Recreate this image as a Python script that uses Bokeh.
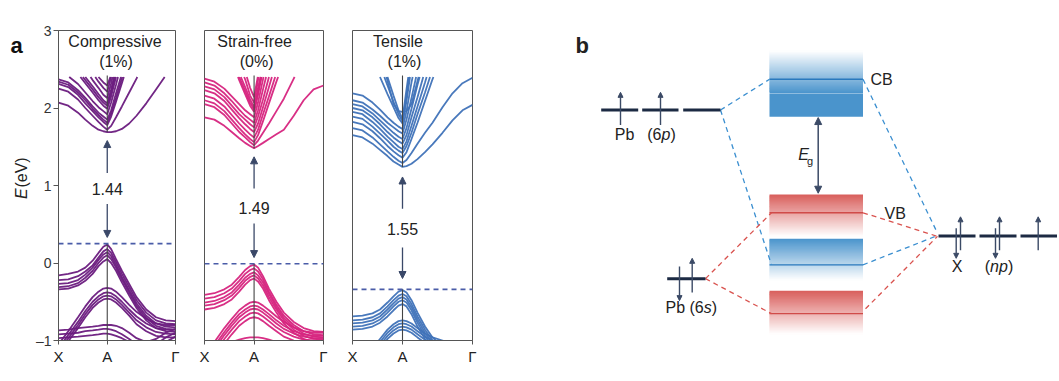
import numpy as np
from bokeh.plotting import figure
from bokeh.layouts import row
from bokeh.models import Range1d, FixedTicker, Arrow, NormalHead
from bokeh.embed import file_html
from bokeh.resources import INLINE
from bokeh.core.properties import value

FONT = "Liberation Sans"
TXT = "#222222"
AXC = "#555555"
ARROW_C = "#3a4868"
DASH_C = "#4a5ca8"

# ---------------- data: band structures (k path X-A-Gamma, E in eV) ----------------
K = [0, 0.2, 0.4, 0.55, 0.7, 0.82, 0.92, 1.0, 1.08, 1.18, 1.3, 1.45, 1.6, 1.8, 2.0, 2.2, 2.4]
k_ticks = [0, 1, 2.4]
k_labels = ["X", "A", "Γ"]
E_ticks = [-1, 0, 1, 2, 3]
E_labels = ["–1", "0", "1", "2", "3"]

strain_names = ["Compressive", "Strain-free", "Tensile"]
strain_pcts = ["(1%)", "(0%)", "(1%)"]
gap_labels = ["1.44", "1.49", "1.55"]
vb_max = [0.25, -0.01, -0.34]
cb_min = [1.69, 1.48, 1.24]
band_colors = ["#6a1b7e", "#d6247e", "#3f72b8"]

comp_cb = [
    [2.07, 2.03, 1.94, 1.85, 1.77, 1.72, 1.70, 1.69, 1.69, 1.70, 1.73, 1.80, 1.90, 2.06, 2.24, 2.42, 2.60],
    [2.25, 2.21, 2.11, 2.00, 1.90, 1.82, 1.76, 1.72, 1.77, 1.88, 2.02, 2.20, 2.38, 2.62],
    [2.31, 2.27, 2.17, 2.06, 1.96, 1.88, 1.82, 1.78, 1.89, 2.08, 2.32, 2.62],
    [2.34, 2.30, 2.20, 2.10, 1.99, 1.91, 1.85, 1.81, 1.93, 2.13, 2.38, 2.70],
    [2.37, 2.33, 2.23, 2.13, 2.02, 1.94, 1.89, 1.85, 1.97, 2.19, 2.44, 2.80],
    [2.45, 2.41, 2.31, 2.20, 2.09, 2.01, 1.96, 1.92, 2.07, 2.30, 2.60],
    [2.80, 2.60, 2.44, 2.32, 2.20, 2.10, 2.03, 1.99, 2.15, 2.40, 2.70],
    [2.85, 2.65, 2.48, 2.36, 2.24, 2.14, 2.07, 2.03, 2.20, 2.46, 2.75],
    [2.90, 2.70, 2.52, 2.40, 2.28, 2.18, 2.10, 2.06, 2.24, 2.51, 2.80],
    [3.00, 2.80, 2.65, 2.50, 2.36, 2.26, 2.17, 2.13, 2.32, 2.60, 2.90],
    [3.00, 3.00, 2.75, 2.60, 2.45, 2.34, 2.26, 2.21, 2.40, 2.65, 3.00],
    [3.00, 3.00, 3.00, 2.70, 2.50, 2.40, 2.33, 2.29, 2.43, 2.70, 3.00],
]
comp_vb = [
    [-0.16, -0.14, -0.11, -0.06, 0.03, 0.13, 0.21, 0.24, 0.18, 0.05, -0.10, -0.27, -0.44, -0.60, -0.70, -0.74, -0.75],
    [-0.22, -0.21, -0.17, -0.11, -0.03, 0.07, 0.15, 0.18, 0.13, 0.01, -0.14, -0.31, -0.48, -0.64, -0.74, -0.78, -0.79],
    [-0.27, -0.26, -0.22, -0.15, -0.06, 0.04, 0.11, 0.14, 0.09, -0.03, -0.18, -0.35, -0.52, -0.68, -0.78, -0.82, -0.83],
    [-0.31, -0.30, -0.26, -0.19, -0.10, 0.00, 0.07, 0.10, 0.05, -0.06, -0.21, -0.38, -0.55, -0.71, -0.81, -0.85, -0.86],
    [-0.34, -0.33, -0.29, -0.23, -0.14, -0.04, 0.02, 0.05, 0.00, -0.10, -0.25, -0.42, -0.58, -0.74, -0.84, -0.88, -0.89],
    [-1.05, -0.88, -0.70, -0.56, -0.44, -0.37, -0.33, -0.32, -0.33, -0.37, -0.44, -0.54, -0.63, -0.72, -0.78, -0.80, -0.80],
    [-1.10, -0.93, -0.76, -0.62, -0.50, -0.43, -0.39, -0.38, -0.39, -0.43, -0.50, -0.60, -0.69, -0.78, -0.84, -0.86, -0.86],
    [-1.14, -0.97, -0.80, -0.66, -0.54, -0.47, -0.43, -0.42, -0.43, -0.47, -0.54, -0.64, -0.74, -0.83, -0.89, -0.91, -0.92],
    [-1.18, -1.01, -0.84, -0.70, -0.58, -0.51, -0.47, -0.46, -0.47, -0.51, -0.58, -0.68, -0.79, -0.88, -0.94, -0.96, -0.96],
    [-0.87, -0.86, -0.84, -0.83, -0.82, -0.81, -0.80, -0.80, -0.80, -0.81, -0.84, -0.90, -0.97, -1.02, -0.98, -0.90, -0.85],
    [-0.92, -0.91, -0.90, -0.88, -0.87, -0.86, -0.85, -0.85, -0.86, -0.88, -0.92, -0.98, -1.05, -1.10, -1.05, -0.96, -0.90],
    [-0.97, -0.96, -0.95, -0.94, -0.93, -0.92, -0.91, -0.91, -0.92, -0.94, -0.97, -1.02, -1.10, -1.10, -1.10, -1.02, -0.95],
]

free_cb = [
    [1.88, 1.85, 1.77, 1.69, 1.61, 1.55, 1.51, 1.48, 1.51, 1.55, 1.60, 1.66, 1.72, 1.90, 2.10, 2.24, 2.29],
    [2.05, 2.01, 1.91, 1.80, 1.69, 1.62, 1.56, 1.52, 1.58, 1.68, 1.80, 1.96, 2.12, 2.38, 2.60],
    [2.10, 2.06, 1.96, 1.85, 1.74, 1.66, 1.60, 1.56, 1.65, 1.83, 2.06, 2.34, 2.60],
    [2.16, 2.12, 2.02, 1.91, 1.80, 1.72, 1.66, 1.62, 1.72, 1.92, 2.15, 2.45, 2.75],
    [2.23, 2.19, 2.09, 1.98, 1.87, 1.79, 1.73, 1.69, 1.80, 2.01, 2.27, 2.60],
    [2.28, 2.24, 2.14, 2.03, 1.92, 1.85, 1.79, 1.75, 1.89, 2.11, 2.40, 2.75],
    [2.33, 2.29, 2.19, 2.09, 1.98, 1.90, 1.85, 1.81, 1.97, 2.24, 2.55],
    [2.38, 2.34, 2.25, 2.15, 2.05, 1.97, 1.92, 1.88, 2.07, 2.37, 2.70],
    [3.00, 3.00, 2.80, 2.60, 2.36, 2.18, 2.03, 1.95, 2.17, 2.50, 2.90],
    [3.00, 3.00, 2.90, 2.65, 2.40, 2.22, 2.07, 1.98, 2.21, 2.52, 2.95],
    [3.00, 3.00, 3.00, 2.70, 2.45, 2.27, 2.11, 2.01, 2.26, 2.55, 3.00],
    [3.00, 3.00, 3.00, 2.80, 2.55, 2.37, 2.16, 2.07, 2.36, 2.70, 3.00],
    [3.00, 3.00, 3.00, 3.00, 2.70, 2.47, 2.26, 2.14, 2.42, 2.80, 3.00],
]
free_vb = [
    [-0.41, -0.39, -0.34, -0.28, -0.18, -0.09, -0.04, -0.02, -0.06, -0.17, -0.33, -0.50, -0.64, -0.76, -0.84, -0.88, -0.89],
    [-0.46, -0.44, -0.39, -0.33, -0.23, -0.14, -0.09, -0.07, -0.11, -0.21, -0.37, -0.54, -0.68, -0.80, -0.88, -0.92, -0.93],
    [-0.51, -0.49, -0.44, -0.38, -0.28, -0.19, -0.14, -0.12, -0.16, -0.25, -0.40, -0.57, -0.71, -0.83, -0.91, -0.95, -0.96],
    [-0.55, -0.53, -0.48, -0.42, -0.32, -0.23, -0.18, -0.16, -0.20, -0.29, -0.44, -0.60, -0.74, -0.86, -0.94, -0.98, -0.99],
    [-0.60, -0.58, -0.53, -0.47, -0.37, -0.28, -0.22, -0.20, -0.24, -0.33, -0.48, -0.64, -0.78, -0.90, -0.98, -1.02, -1.03],
    [-1.25, -1.02, -0.84, -0.72, -0.61, -0.55, -0.51, -0.50, -0.51, -0.55, -0.61, -0.69, -0.76, -0.83, -0.88, -0.90, -0.90],
    [-1.30, -1.07, -0.89, -0.77, -0.66, -0.60, -0.56, -0.55, -0.56, -0.60, -0.66, -0.74, -0.81, -0.88, -0.92, -0.94, -0.94],
    [-1.34, -1.11, -0.93, -0.81, -0.70, -0.64, -0.60, -0.59, -0.60, -0.64, -0.70, -0.78, -0.85, -0.91, -0.95, -0.97, -0.97],
    [-1.39, -1.16, -0.98, -0.86, -0.75, -0.69, -0.65, -0.64, -0.65, -0.69, -0.75, -0.83, -0.89, -0.95, -0.99, -1.00, -1.00],
    [-1.45, -1.22, -1.04, -0.92, -0.81, -0.75, -0.71, -0.70, -0.71, -0.75, -0.81, -0.88, -0.95, -1.00, -1.04, -1.05, -1.05],
    [-1.10, -1.08, -1.05, -1.02, -0.99, -0.97, -0.96, -0.96, -0.96, -0.97, -0.99, -1.02, -1.05, -1.08, -1.10, -1.10, -1.10],
]

tens_cb = [
    [1.65, 1.62, 1.54, 1.46, 1.38, 1.31, 1.27, 1.24, 1.25, 1.28, 1.34, 1.43, 1.53, 1.68, 1.84, 1.97, 2.04],
    [1.74, 1.71, 1.62, 1.53, 1.44, 1.37, 1.32, 1.29, 1.33, 1.42, 1.54, 1.68, 1.81, 2.01, 2.19, 2.32, 2.39],
    [1.82, 1.79, 1.70, 1.61, 1.51, 1.44, 1.39, 1.36, 1.43, 1.60, 1.81, 2.09, 2.37, 2.70],
    [1.89, 1.86, 1.76, 1.67, 1.58, 1.50, 1.45, 1.42, 1.51, 1.68, 1.92, 2.20, 2.50],
    [1.95, 1.92, 1.82, 1.73, 1.63, 1.56, 1.50, 1.47, 1.57, 1.77, 2.02, 2.33, 2.65],
    [2.00, 1.97, 1.88, 1.79, 1.69, 1.62, 1.57, 1.54, 1.65, 1.88, 2.14, 2.48],
    [2.05, 2.02, 1.93, 1.84, 1.75, 1.68, 1.63, 1.60, 1.74, 1.99, 2.30, 2.65],
    [2.10, 2.07, 1.98, 1.90, 1.81, 1.75, 1.70, 1.67, 1.85, 2.13, 2.48],
    [2.19, 2.16, 2.07, 1.98, 1.88, 1.81, 1.76, 1.73, 1.96, 2.33, 2.70],
    [3.00, 2.85, 2.60, 2.40, 2.18, 2.01, 1.87, 1.80, 2.09, 2.53],
    [3.00, 3.00, 2.80, 2.55, 2.29, 2.08, 1.92, 1.83, 2.16, 2.62],
    [3.00, 3.00, 3.00, 2.70, 2.40, 2.16, 1.97, 1.86, 2.24, 2.70],
    [3.00, 3.00, 3.00, 2.70, 2.35, 2.05, 1.96, 1.95, 1.96, 2.05, 2.35, 2.70],
]
tens_vb = [
    [-0.69, -0.68, -0.65, -0.60, -0.51, -0.43, -0.37, -0.35, -0.38, -0.48, -0.64, -0.82, -0.96, -1.08, -1.15, -1.20, -1.20],
    [-0.74, -0.73, -0.70, -0.65, -0.56, -0.48, -0.42, -0.40, -0.43, -0.53, -0.69, -0.86, -1.00, -1.12, -1.18, -1.22, -1.22],
    [-0.78, -0.77, -0.74, -0.69, -0.60, -0.52, -0.46, -0.44, -0.47, -0.57, -0.73, -0.90, -1.03, -1.15, -1.20, -1.24, -1.24],
    [-0.82, -0.81, -0.78, -0.73, -0.64, -0.56, -0.50, -0.48, -0.51, -0.61, -0.77, -0.94, -1.07, -1.18, -1.22, -1.25, -1.25],
    [-0.86, -0.85, -0.82, -0.77, -0.69, -0.61, -0.55, -0.53, -0.56, -0.66, -0.82, -0.98, -1.10, -1.20, -1.25, -1.27, -1.27],
    [-1.40, -1.25, -1.10, -0.98, -0.86, -0.79, -0.75, -0.74, -0.75, -0.78, -0.84, -0.91, -0.96, -1.00, -1.05, -1.10, -1.10],
    [-1.44, -1.29, -1.14, -1.02, -0.90, -0.83, -0.79, -0.78, -0.79, -0.82, -0.88, -0.95, -1.00, -1.04, -1.09, -1.14, -1.14],
    [-1.48, -1.33, -1.18, -1.06, -0.94, -0.87, -0.83, -0.82, -0.83, -0.86, -0.92, -0.99, -1.04, -1.08, -1.13, -1.18, -1.18],
    [-1.52, -1.37, -1.22, -1.10, -0.98, -0.91, -0.87, -0.86, -0.87, -0.90, -0.96, -1.03, -1.08, -1.12, -1.17, -1.22, -1.22],
]

all_cb = [comp_cb, free_cb, tens_cb]
all_vb = [comp_vb, free_vb, tens_vb]

# gap arrows / labels (E positions)
up_arrow = [(1.16, 1.58), (0.96, 1.37), (0.70, 1.11)]
down_arrow = [(0.76, 0.33), (0.51, 0.07), (0.20, -0.20)]
gap_text_E = [0.96, 0.71, 0.44]
title_k = [(1.16, 1.18), (1.01, 1.05), (0.91, 1.04)]
E_TOP = 2.4


def clip_top(ks, es, top=E_TOP):
    """Split a band polyline where it leaves the plotted energy window."""
    es = list(es) + [3.0] * (len(ks) - len(es))
    segs, cx, cy = [], [], []
    for i in range(len(ks)):
        k, e = ks[i], es[i]
        if i > 0:
            k0, e0 = ks[i - 1], es[i - 1]
            if (e0 <= top) != (e <= top):
                t = (top - e0) / (e - e0)
                cx.append(k0 + t * (k - k0)); cy.append(top)
                if e > top:
                    if len(cx) > 1:
                        segs.append((cx, cy))
                    cx, cy = [], []
        if e <= top:
            cx.append(k); cy.append(e)
    if len(cx) > 1:
        segs.append((cx, cy))
    return segs


H = 381
# left strip holding the panel letter and the rotated y-axis title
p_lab = figure(width=32, height=H, x_range=Range1d(0, 32), y_range=Range1d(H, 0),
               output_backend="svg", toolbar_location=None, tools="", min_border=0,
               x_axis_location=None, y_axis_location=None)
p_lab.grid.visible = False
p_lab.outline_line_color = None
p_lab.text(x=[10], y=[19], text=["a"], text_font=value(FONT), text_font_size=value("22px"),
           text_font_style="bold", text_align="left", text_baseline="middle", text_color="#111111")
p_lab.text(x=[21], y=[207], text=["E"], text_font=value(FONT), text_font_size=value("16px"),
           text_font_style="italic", text_align="left", text_baseline="middle", text_color=TXT,
           angle=np.pi / 2)
p_lab.text(x=[21], y=[193], text=["(eV)"], text_font=value(FONT), text_font_size=value("16px"),
           text_align="left", text_baseline="middle", text_color=TXT, angle=np.pi / 2)

widths = [158, 148, 222]
lefts = [23, 14, 14]
rights = [15, 15, 88]
figs = []
for i in range(3):
    p = figure(width=widths[i], height=H, x_range=Range1d(0, 2.4), y_range=Range1d(-1, 3),
               output_backend="svg", toolbar_location=None, tools="",
               min_border_left=lefts[i], min_border_right=rights[i],
               min_border_top=30, min_border_bottom=41,
               y_axis_location="left" if i == 0 else None)
    p.grid.visible = False
    p.outline_line_color = AXC
    p.outline_line_width = 1
    p.background_fill_color = "white"
    p.border_fill_color = "white"

    xa = p.xaxis[0]
    xa.ticker = FixedTicker(ticks=k_ticks)
    xa.major_label_overrides = dict(zip(k_ticks, k_labels))
    xa.minor_tick_line_color = None
    xa.major_tick_in = 0
    xa.major_tick_out = 4
    xa.major_tick_line_color = AXC
    xa.axis_line_color = AXC
    xa.major_label_standoff = 3
    xa.major_label_text_font = FONT
    xa.major_label_text_font_size = "15px"
    xa.major_label_text_color = TXT
    if i == 0:
        ya = p.yaxis[0]
        ya.ticker = FixedTicker(ticks=E_ticks)
        ya.major_label_overrides = dict(zip(E_ticks, E_labels))
        ya.minor_tick_line_color = None
        ya.major_tick_in = 0
        ya.major_tick_out = 5
        ya.major_tick_line_color = AXC
        ya.axis_line_color = AXC
        ya.major_label_standoff = 2
        ya.major_label_text_font = FONT
        ya.major_label_text_font_size = "14px"
        ya.major_label_text_color = "#333333"

    col = band_colors[i]
    xs, ys = [], []
    for band in all_cb[i] + all_vb[i]:
        for sx, sy in clip_top(K, band):
            xs.append(sx); ys.append(sy)
    p.multi_line(xs, ys, line_color=col, line_width=1.8, line_alpha=0.95)

    # vertical line at A through the bands
    p.segment(x0=[1, 1], y0=[-1, cb_min[i]], x1=[1, 1], y1=[vb_max[i], E_TOP + 0.02],
              line_color="#444444", line_width=1.1)
    # VBM dashed level
    p.line(x=[k_ticks[0], k_ticks[-1]], y=[vb_max[i], vb_max[i]], line_color=DASH_C,
           line_width=1.6, line_dash="5 4")

    # gap arrows and value
    for (y0, y1) in (up_arrow[i], down_arrow[i]):
        p.add_layout(Arrow(end=NormalHead(size=7, fill_color=ARROW_C, line_color=ARROW_C, line_width=1),
                           x_start=1, y_start=y0, x_end=1, y_end=y1,
                           line_color=ARROW_C, line_width=1.3))
    p.text(x=[1], y=[gap_text_E[i]], text=[gap_labels[i]], text_font=value(FONT),
           text_font_size=value("16px"), text_align="center", text_baseline="middle",
           text_color=TXT)
    # panel title
    p.text(x=[title_k[i][0], title_k[i][1]], y=[2.86, 2.60], text=[strain_names[i], strain_pcts[i]],
           text_font=value(FONT), text_font_size=value("16px"), text_align="center",
           text_baseline="middle", text_color=TXT)
    figs.append(p)

# ---------------- panel b: schematic orbital diagram ----------------
BLUE = "#4a94cc"
RED = "#d95f5c"
BLUE_LINE = "#2a79bd"
RED_LINE = "#d04b49"
LEVEL_C = "#1c2a43"
ELEC_C = "#3b4a66"

band_x = (769.0, 862.5)
# (edge where colour is full, edge where it has faded, colour, solid extent)
band_boxes = [(77, 25, BLUE, 106), (201.7, 253, RED, None), (256, 307, BLUE, None), (320, 373, RED, None)]
band_lines = [(60, BLUE_LINE), (224, RED_LINE), (288, BLUE_LINE), (348, RED_LINE)]

pb_levels = [(97.7, [(600.7, 637.7), (641.7, 678), (682.7, 720)]),
             (305, [(666.7, 705)]),
             (252.7, [(938, 975), (979, 1016), (1020, 1056.5)])]
# electron spins: (x, y_start, y_end)
spins = [(620, 116, 76), (660, 116, 76),
         (679, 290, 332), (691.7, 322, 280),
         (955.7, 243, 280), (960, 270, 229), (995, 243, 280), (999, 270, 229), (1037.7, 270, 229)]
blue_links = [((720, 97.7), (769, 60)), ((720, 97.7), (771, 288)),
              ((862.5, 60), (937, 249)), ((862.5, 288), (937, 252))]
red_links = [((705, 305), (771, 224)), ((705, 305), (771, 348)),
             ((862.5, 224), (937, 253)), ((865, 342), (937, 253))]


def mix(hexc, t):
    r, g, b = int(hexc[1:3], 16), int(hexc[3:5], 16), int(hexc[5:7], 16)
    return "#%02x%02x%02x" % (round(r + (255 - r) * t), round(g + (255 - g) * t), round(b + (255 - b) * t))


pb = figure(width=499, height=H, x_range=Range1d(560, 1059), y_range=Range1d(H, 0),
            output_backend="svg", toolbar_location=None, tools="", min_border=0,
            x_axis_location=None, y_axis_location=None)
pb.grid.visible = False
pb.outline_line_color = None
pb.background_fill_color = "white"
pb.border_fill_color = "white"

n = 40
for (yf, yc, c, solid) in band_boxes:
    edges = np.linspace(yf, yc, n + 1)
    sgn = 1 if yc > yf else -1
    cols = [mix(c, (j + 0.5) / n) for j in range(n)]
    # slices overlap by one pixel so that no seams show
    pb.quad(left=band_x[0], right=band_x[1], top=edges[:-1], bottom=edges[1:] + sgn * 1.0,
            fill_color=cols, line_color=None)
    if solid is not None:
        pb.quad(left=band_x[0], right=band_x[1], top=yf - sgn * 0.5, bottom=solid,
                fill_color=c, line_color=None)
for (y, c) in band_lines:
    pb.segment(x0=band_x[0], x1=band_x[1], y0=y, y1=y, line_color=c, line_width=1.4)

for links, c in ((blue_links, "#3b8fd0"), (red_links, "#d9534f")):
    pb.segment(x0=[a[0] for a, b in links], y0=[a[1] for a, b in links],
               x1=[b[0] for a, b in links], y1=[b[1] for a, b in links],
               line_color=c, line_width=1.3, line_dash="5 4")

for y, segs in pb_levels:
    pb.segment(x0=[s[0] for s in segs], x1=[s[1] for s in segs], y0=[y] * len(segs), y1=[y] * len(segs),
               line_color=LEVEL_C, line_width=3)
for (x, ya, yb) in spins:
    pb.add_layout(Arrow(end=NormalHead(size=5, fill_color=ELEC_C, line_color=ELEC_C, line_width=1),
                        x_start=x, y_start=ya, x_end=x, y_end=yb, line_color=ELEC_C, line_width=1.4))
# band-gap arrow
pb.add_layout(Arrow(start=NormalHead(size=7, fill_color=ELEC_C, line_color=ELEC_C, line_width=1),
                    end=NormalHead(size=7, fill_color=ELEC_C, line_color=ELEC_C, line_width=1),
                    x_start=817.7, y_start=200, x_end=817.7, y_end=107, line_color=ELEC_C, line_width=1.5))


def ptext(x, y, t, align="left", style="normal", size="16px"):
    pb.text(x=[x], y=[y], text=[t], text_font=value(FONT), text_font_size=value(size),
            text_font_style=style, text_align=align, text_baseline="middle", text_color=TXT)


ptext(575, 18.5, "b", style="bold", size="22px")
ptext(870, 60, "CB")
ptext(884, 225, "VB")
ptext(797.7, 152, "E", style="italic")
ptext(806.5, 161, "g", size="11px")
ptext(624, 128, "Pb", align="center")
ptext(646.7, 128, "(6")
ptext(661, 128, "p", style="italic")
ptext(670, 128, ")")
ptext(665, 341, "Pb (6")
ptext(703.2, 341, "s", style="italic")
ptext(711.2, 341, ")")
ptext(956.7, 290.5, "X", align="center")
ptext(984.3, 290.5, "(")
ptext(989.6, 290.5, "np", style="italic")
ptext(1007.4, 290.5, ")")

layout = row([p_lab] + figs + [pb], spacing=0)
open("out.html", "w").write(file_html(layout, INLINE))
